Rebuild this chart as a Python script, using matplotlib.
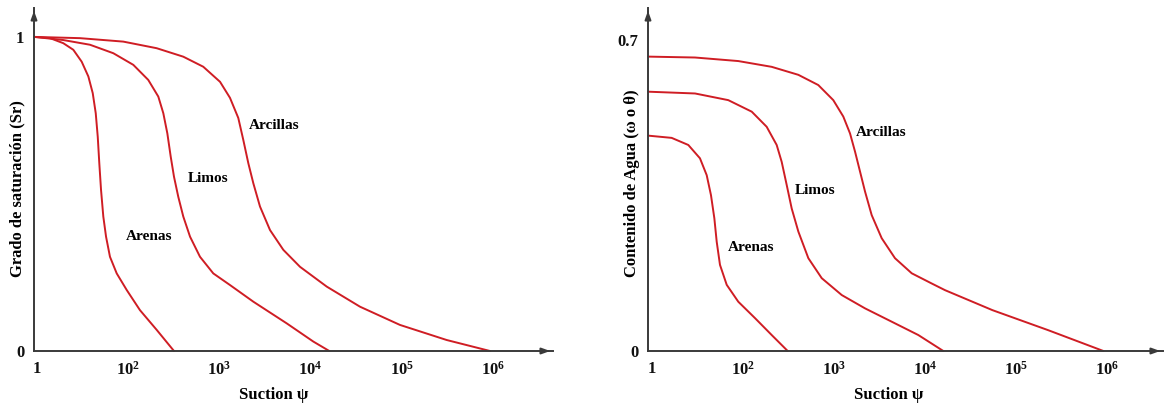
import matplotlib
matplotlib.use("Agg")
import matplotlib.pyplot as plt

plt.rcParams['font.family'] = ['Liberation Serif', 'DejaVu Serif']
plt.rcParams['font.weight'] = 'bold'
plt.rcParams['mathtext.fontset'] = 'custom'
plt.rcParams['mathtext.rm'] = 'Liberation Serif:bold'
plt.rcParams['mathtext.bf'] = 'Liberation Serif:bold'
plt.rcParams['mathtext.it'] = 'Liberation Serif:bold'

# x values expressed as decade index (1 -> "1", 2 -> "10^2", ... 6 -> "10^6")
tick_pos = [1, 2, 3, 4, 5, 6]
tick_labels = ["1", r"$10^{2}$", r"$10^{3}$", r"$10^{4}$", r"$10^{5}$", r"$10^{6}$"]

# Left panel: degree of saturation
sr_arenas_x = [0.97, 1.143, 1.288, 1.398, 1.490, 1.563, 1.611, 1.644, 1.666, 1.683, 1.702,
               1.727, 1.757, 1.800, 1.874, 1.984, 2.129, 2.313, 2.502]
sr_arenas_y = [1.0, 0.996, 0.980, 0.959, 0.921, 0.874, 0.821, 0.757, 0.682, 0.598, 0.513,
               0.428, 0.364, 0.300, 0.247, 0.194, 0.130, 0.067, 0.0]
sr_limos_x = [0.97, 1.288, 1.581, 1.837, 2.056, 2.220, 2.330, 2.385, 2.429, 2.466, 2.502,
              2.549, 2.604, 2.678, 2.787, 2.933, 3.116, 3.372, 3.738, 4.030, 4.205]
sr_limos_y = [1.0, 0.990, 0.975, 0.948, 0.911, 0.863, 0.810, 0.757, 0.693, 0.619, 0.555,
              0.491, 0.428, 0.364, 0.300, 0.247, 0.210, 0.157, 0.088, 0.030, 0.0]
sr_arcillas_x = [0.97, 1.471, 1.946, 2.312, 2.604, 2.823, 3.007, 3.116, 3.207, 3.262, 3.317,
                 3.372, 3.445, 3.555, 3.701, 3.884, 4.177, 4.542, 4.980, 5.492, 5.967]
sr_arcillas_y = [1.0, 0.996, 0.985, 0.964, 0.937, 0.905, 0.857, 0.806, 0.742, 0.672, 0.598,
                 0.534, 0.460, 0.385, 0.322, 0.268, 0.205, 0.141, 0.083, 0.035, 0.0]

# Right panel: water content
w_arenas_x = [0.96, 1.216, 1.399, 1.527, 1.601, 1.648, 1.685, 1.711, 1.747, 1.821, 1.948,
              2.132, 2.315, 2.491]
w_arenas_y = [0.485, 0.480, 0.464, 0.434, 0.396, 0.351, 0.299, 0.246, 0.194, 0.149, 0.111,
              0.074, 0.036, 0.0]
w_limos_x = [0.96, 1.473, 1.838, 2.096, 2.260, 2.370, 2.425, 2.480, 2.535, 2.608, 2.718,
             2.865, 3.085, 3.341, 3.634, 3.926, 4.201]
w_limos_y = [0.584, 0.580, 0.565, 0.539, 0.505, 0.464, 0.426, 0.374, 0.321, 0.269, 0.209,
             0.164, 0.126, 0.096, 0.066, 0.036, 0.0]
w_arcillas_x = [0.96, 1.473, 1.948, 2.315, 2.608, 2.827, 2.992, 3.102, 3.176, 3.231, 3.286,
                3.341, 3.414, 3.524, 3.670, 3.854, 4.074, 4.220, 4.741, 5.352, 5.96]
w_arcillas_y = [0.663, 0.661, 0.653, 0.640, 0.622, 0.599, 0.565, 0.528, 0.490, 0.449, 0.404,
                0.359, 0.306, 0.254, 0.209, 0.175, 0.152, 0.137, 0.092, 0.047, 0.0]

curve_names = ["Arenas", "Limos", "Arcillas"]

RED = "#cf1d24"
AX = "#3a3a3a"
W, H = 1165, 405
FS = 12

fig = plt.figure(figsize=(W / 100, H / 100), dpi=100)

def make_axes(left_px, right_px, xlim, ylim, yticks, yticklabels):
    ax = fig.add_axes([left_px / W, (H - 351) / H, (right_px - left_px) / W, (351 - 8) / H])
    ax.set_xlim(*xlim)
    ax.set_ylim(*ylim)
    for s in ["top", "right"]:
        ax.spines[s].set_visible(False)
    for s in ["left", "bottom"]:
        ax.spines[s].set_color(AX)
        ax.spines[s].set_linewidth(1.4)
    ax.set_xticks(tick_pos)
    ax.set_xticklabels(tick_labels)
    ax.set_yticks(yticks)
    ax.set_yticklabels(yticklabels)
    ax.tick_params(axis="both", length=0, labelsize=FS, colors="#111111")
    ax.tick_params(axis="x", pad=7)
    ax.tick_params(axis="y", pad=7)
    ax.annotate("", xy=(1.0, 0), xytext=(0.98, 0), xycoords="axes fraction",
                arrowprops=dict(arrowstyle="-|>,head_length=0.5,head_width=0.18", color=AX, lw=1.4),
                annotation_clip=False)
    ax.annotate("", xy=(0, 1.0), xytext=(0, 0.98), xycoords="axes fraction",
                arrowprops=dict(arrowstyle="-|>,head_length=0.5,head_width=0.18", color=AX, lw=1.4),
                annotation_clip=False)
    ax.patch.set_alpha(0)
    return ax

# Left panel
ax1 = make_axes(34, 553, (0.967, 6.658), (0, 1.092), [0, 1], ["0", "1"])
for xs, ys in [(sr_arenas_x, sr_arenas_y), (sr_limos_x, sr_limos_y), (sr_arcillas_x, sr_arcillas_y)]:
    ax1.plot(xs, ys, color=RED, lw=1.4, solid_joinstyle="round", solid_capstyle="round", clip_on=False)
ax1.text(2.228, 0.364, curve_names[0], ha="center", va="center", fontsize=11, fontweight="bold")
ax1.text(2.872, 0.548, curve_names[1], ha="center", va="center", fontsize=11, fontweight="bold")
ax1.text(3.60, 0.717, curve_names[2], ha="center", va="center", fontsize=11, fontweight="bold")
ax1.set_ylabel("Grado de saturación (Sr)", fontsize=FS, fontweight="bold")
ax1.yaxis.set_label_coords(-0.016, 0.475)
ax1.set_xlabel("Suction ψ", fontsize=FS, fontweight="bold")
ax1.xaxis.set_label_coords(0.462, -0.105)

# Right panel
ax2 = make_axes(648, 1163, (0.956, 6.615), (0, 0.7725), [0, 0.7], ["0", "0.7"])
for xs, ys in [(w_arenas_x, w_arenas_y), (w_limos_x, w_limos_y), (w_arcillas_x, w_arcillas_y)]:
    ax2.plot(xs, ys, color=RED, lw=1.4, solid_joinstyle="round", solid_capstyle="round", clip_on=False)
ax2.text(2.088, 0.233, curve_names[0], ha="center", va="center", fontsize=11, fontweight="bold")
ax2.text(2.79, 0.361, curve_names[1], ha="center", va="center", fontsize=11, fontweight="bold")
ax2.text(3.52, 0.493, curve_names[2], ha="center", va="center", fontsize=11, fontweight="bold")
ax2.set_ylabel("Contenido de Agua (ω o θ)", fontsize=FS, fontweight="bold")
ax2.yaxis.set_label_coords(-0.016, 0.49)
ax2.set_xlabel("Suction ψ", fontsize=FS, fontweight="bold")
ax2.xaxis.set_label_coords(0.468, -0.105)

fig.savefig("out.png", dpi=100, facecolor="white")
